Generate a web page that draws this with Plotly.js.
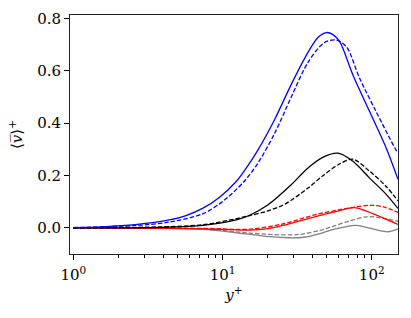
<!DOCTYPE html>
<html>
<head>
<meta charset="utf-8">
<script src="https://cdn.plot.ly/plotly-3.0.1.min.js"></script>
<style>html,body{margin:0;padding:0;background:#fff;}#chart{width:411px;height:318px;}</style>
</head>
<body>
<div id="chart"></div>
<script>
// Blue pair
const blueSolidX = [1, 1.58, 2.6, 4.4, 5.7, 7.4, 9.6, 12.4, 14.1, 17.3, 22.4, 28.9, 37.4, 43.6, 49.6, 55, 61, 74.8, 96.8, 125, 150];
const blueSolidY = [0.001, 0.004, 0.012, 0.030, 0.047, 0.075, 0.118, 0.178, 0.220, 0.298, 0.415, 0.548, 0.670, 0.727, 0.746, 0.738, 0.711, 0.584, 0.444, 0.305, 0.185];
const blueDashX = [1, 2.6, 4.4, 7.4, 10.3, 14.1, 17.3, 22.4, 28.9, 37.4, 48, 57.9, 67.6, 83, 107, 146, 150];
const blueDashY = [0.001, 0.009, 0.022, 0.054, 0.106, 0.180, 0.248, 0.362, 0.500, 0.632, 0.707, 0.717, 0.692, 0.571, 0.444, 0.296, 0.287];
// Black pair
const blackSolidX = [1, 4, 7.4, 12.4, 15.2, 20.2, 28.9, 37.4, 48, 59.4, 74.8, 96.8, 125, 150];
const blackSolidY = [0, 0.002, 0.009, 0.030, 0.048, 0.088, 0.165, 0.229, 0.272, 0.285, 0.254, 0.190, 0.128, 0.074];
const blackDashX = [1, 4, 7.4, 12.4, 15.2, 19.7, 26.1, 37.4, 48, 60, 74.8, 96.8, 125, 150];
const blackDashY = [0, 0.004, 0.012, 0.035, 0.047, 0.063, 0.090, 0.152, 0.203, 0.242, 0.262, 0.216, 0.158, 0.103];
// Red pair
const redSolidX = [1, 4, 7.4, 12.4, 15.2, 19.7, 25.4, 42.5, 60, 76, 90, 119, 150];
const redSolidY = [0, -0.002, -0.004, -0.008, -0.009, -0.004, 0.009, 0.044, 0.065, 0.077, 0.066, 0.038, 0.013];
const redDashX = [1, 7.4, 15.2, 25.4, 42.5, 71, 96.8, 120, 150];
const redDashY = [0, -0.002, -0.005, 0.015, 0.051, 0.076, 0.086, 0.080, 0.059];
// Grey pair
const greySolidX = [1, 3, 7.4, 12.4, 20.7, 28, 35, 45, 53.7, 65, 78.8, 95, 119, 130, 150];
const greySolidY = [0, -0.001, -0.006, -0.019, -0.034, -0.038, -0.036, -0.022, -0.008, 0.003, 0.009, 0.0, -0.013, -0.015, -0.004];
const greyDashX = [1, 7.4, 15.2, 25, 32.9, 45, 53.7, 70, 91.5, 110, 150];
const greyDashY = [0, -0.005, -0.020, -0.027, -0.025, -0.010, 0.004, 0.025, 0.042, 0.040, 0.025];

const xTickVals = [1, 10, 100];
const xTickText = ['10<sup>0</sup>', '10<sup>1</sup>', '10<sup>2</sup>'];
const yTickVals = [0.0, 0.2, 0.4, 0.6, 0.8];
const yTickText = ['0.0', '0.2', '0.4', '0.6', '0.8'];

const minorVals = [];
for (const dec of [1, 10, 100]) for (let k = 2; k <= 9; k++) minorVals.push(k * dec);

const dashPat = '4.5px,2px';
function tr(x, y, color, dash) {
  return {x: x, y: y, type: 'scatter', mode: 'lines',
    line: {color: color, width: 1.3, dash: dash, shape: 'spline', smoothing: 0.9},
    hoverinfo: 'skip', showlegend: false};
}
const data = [
  tr(greySolidX, greySolidY, '#808080', 'solid'),
  tr(greyDashX, greyDashY, '#808080', dashPat),
  tr(redSolidX, redSolidY, '#ff0000', 'solid'),
  tr(redDashX, redDashY, '#ff0000', dashPat),
  tr(blackSolidX, blackSolidY, '#000000', 'solid'),
  tr(blackDashX, blackDashY, '#000000', dashPat),
  tr(blueSolidX, blueSolidY, '#0000ff', 'solid'),
  tr(blueDashX, blueDashY, '#0000ff', dashPat),
  // carrier for the minor-tick axis (draws nothing)
  {x: [1, 150], y: [null, null], xaxis: 'x2', yaxis: 'y', type: 'scatter', mode: 'lines',
   line: {width: 0}, hoverinfo: 'skip', showlegend: false}
];
const FAMILY = 'DejaVu Serif';
const XRANGE = [Math.log10(0.95), Math.log10(150)];
const layout = {
  width: 411, height: 318,
  margin: {l: 70, r: 13, t: 15, b: 64, pad: 0},
  paper_bgcolor: '#fff', plot_bgcolor: '#fff',
  font: {family: FAMILY, size: 15, color: '#000'},
  xaxis: {
    type: 'log', range: XRANGE,
    tickmode: 'array', tickvals: xTickVals, ticktext: xTickText,
    tickfont: {family: FAMILY, size: 15, color: '#000'},
    ticklabelstandoff: 2,
    ticks: 'outside', ticklen: 5, tickwidth: 1, tickcolor: '#000',
    showline: true, linecolor: '#222', linewidth: 1, mirror: true,
    showgrid: false, zeroline: false,
    title: {text: '<i>y</i><sup>+</sup>', font: {family: FAMILY, size: 15, color: '#000'}, standoff: 6}
  },
  xaxis2: {
    type: 'log', range: XRANGE, overlaying: 'x', anchor: 'y', side: 'bottom',
    tickmode: 'array', tickvals: minorVals, ticktext: minorVals.map(() => ''),
    ticks: 'outside', ticklen: 3, tickwidth: 1, tickcolor: '#000',
    showline: false, showgrid: false, zeroline: false, showticklabels: false
  },
  yaxis: {
    range: [-0.1, 0.813],
    tickmode: 'array', tickvals: yTickVals, ticktext: yTickText,
    tickfont: {family: FAMILY, size: 15, color: '#000'},
    ticks: 'outside', ticklen: 5, tickwidth: 1, tickcolor: '#000',
    showline: true, linecolor: '#222', linewidth: 1, mirror: true,
    showgrid: false, zeroline: false,
    title: {text: '⟨<i>v̅</i>⟩<sup>+</sup>', font: {family: FAMILY, size: 15, color: '#000'}, standoff: 10}
  }
};
Plotly.newPlot('chart', data, layout, {staticPlot: true, displayModeBar: false});
</script>
</body>
</html>
